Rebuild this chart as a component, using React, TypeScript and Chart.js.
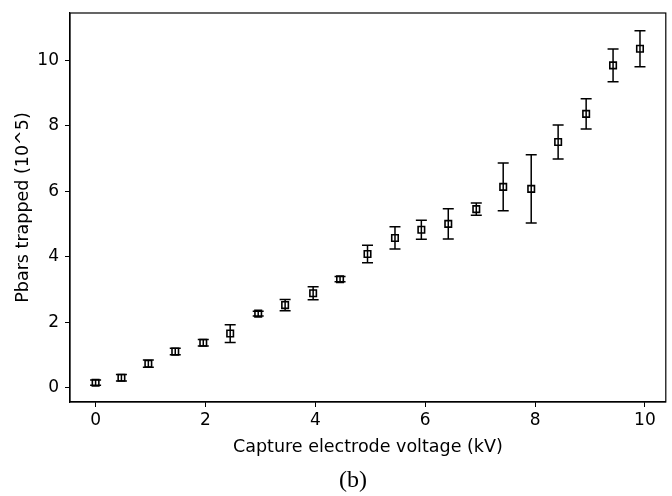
import React, { useEffect, useRef } from "react";
import { Chart, registerables } from "chart.js";

Chart.register(...registerables);

const voltages = [0.0, 0.47, 0.96, 1.45, 1.96, 2.45, 2.96, 3.45, 3.96, 4.45, 4.95, 5.45, 5.93, 6.42, 6.93, 7.42, 7.93, 8.42, 8.93, 9.42, 9.91];
const pbars = [0.15, 0.30, 0.73, 1.10, 1.37, 1.65, 2.26, 2.52, 2.88, 3.31, 4.08, 4.57, 4.82, 5.00, 5.45, 6.13, 6.07, 7.50, 8.36, 9.84, 10.35];
const errors = [0.08, 0.10, 0.11, 0.10, 0.10, 0.27, 0.07, 0.17, 0.20, 0.08, 0.27, 0.34, 0.29, 0.46, 0.19, 0.73, 1.04, 0.52, 0.46, 0.50, 0.55];
const xTicks = [0, 2, 4, 6, 8, 10];
const yTicks = [0, 2, 4, 6, 8, 10];

const FONT = "'DejaVu Sans', sans-serif";

const errorBarPlugin = {
  id: "errorBars",
  afterDatasetsDraw(chart: any) {
    const ctx = chart.ctx;
    const xs = chart.scales.x;
    const ys = chart.scales.y;
    ctx.save();
    ctx.strokeStyle = "#000";
    ctx.lineWidth = 1.5;
    for (let i = 0; i < voltages.length; i++) {
      const px = xs.getPixelForValue(voltages[i]);
      const top = ys.getPixelForValue(pbars[i] + errors[i]);
      const bot = ys.getPixelForValue(pbars[i] - errors[i]);
      ctx.beginPath();
      ctx.moveTo(px, top);
      ctx.lineTo(px, bot);
      ctx.moveTo(px - 5.5, top);
      ctx.lineTo(px + 5.5, top);
      ctx.moveTo(px - 5.5, bot);
      ctx.lineTo(px + 5.5, bot);
      ctx.stroke();
    }
    ctx.restore();
  },
};

const framePlugin = {
  id: "frame",
  afterDraw(chart: any) {
    const { ctx, chartArea } = chart;
    ctx.save();
    ctx.strokeStyle = "#000";
    ctx.lineWidth = 1.2;
    ctx.strokeRect(chartArea.left, chartArea.top, chartArea.right - chartArea.left, chartArea.bottom - chartArea.top);
    ctx.fillStyle = "#000";
    ctx.font = "24px 'Liberation Serif', 'DejaVu Serif', serif";
    ctx.textAlign = "center";
    ctx.textBaseline = "middle";
    ctx.fillText("(b)", 353, 481);
    ctx.restore();
  },
};

export default function App() {
  const ref = useRef<HTMLCanvasElement | null>(null);
  useEffect(() => {
    document.body.style.margin = "0";
    const canvas = ref.current!;
    const chart = new Chart(canvas, {
      type: "scatter",
      data: {
        datasets: [
          {
            data: voltages.map((v, i) => ({ x: v, y: pbars[i] })),
            pointStyle: "rect",
            pointRadius: 4.6,
            pointBorderWidth: 1.6,
            pointBorderColor: "#000",
            pointBackgroundColor: "rgba(255,255,255,0)",
            showLine: false,
          },
        ],
      },
      options: {
        responsive: false,
        animation: false,
        devicePixelRatio: 1,
        layout: { padding: { left: 0, right: 3, top: 13, bottom: 0 } },
        plugins: { legend: { display: false }, tooltip: { enabled: false } },
        scales: {
          x: {
            type: "linear",
            min: -0.466,
            max: 10.38,
            afterBuildTicks: (s: any) => {
              s.ticks = xTicks.map((v) => ({ value: v }));
            },
            afterFit: (s: any) => {
              s.height = 94;
              s.paddingLeft = 0;
              s.paddingRight = 0;
            },
            grid: { drawOnChartArea: false, drawTicks: true, tickLength: 5, color: "#000", lineWidth: 1 },
            border: { display: true, color: "#000", width: 1.2 },
            ticks: { color: "#000", font: { family: FONT, size: 17 }, padding: 3, maxRotation: 0 },
            title: {
              display: true,
              text: "Capture electrode voltage (kV)",
              color: "#000",
              font: { family: FONT, size: 17.5 },
              padding: { top: 0, bottom: 38 },
            },
          },
          y: {
            type: "linear",
            min: -0.44,
            max: 11.44,
            afterBuildTicks: (s: any) => {
              s.ticks = yTicks.map((v) => ({ value: v }));
            },
            afterFit: (s: any) => {
              s.width = 70;
              s.paddingTop = 0;
              s.paddingBottom = 0;
            },
            grid: { drawOnChartArea: false, drawTicks: true, tickLength: 5, color: "#000", lineWidth: 1 },
            border: { display: true, color: "#000", width: 1.2 },
            ticks: { color: "#000", font: { family: FONT, size: 17 }, padding: 6 },
            title: {
              display: true,
              text: "Pbars trapped (10^5)",
              color: "#000",
              font: { family: FONT, size: 17.5 },
              padding: { top: 13, bottom: 0 },
            },
          },
        },
      },
      plugins: [errorBarPlugin, framePlugin],
    });
    return () => chart.destroy();
  }, []);
  return <canvas ref={ref} width={672} height={496} style={{ display: "block" }} />;
}
